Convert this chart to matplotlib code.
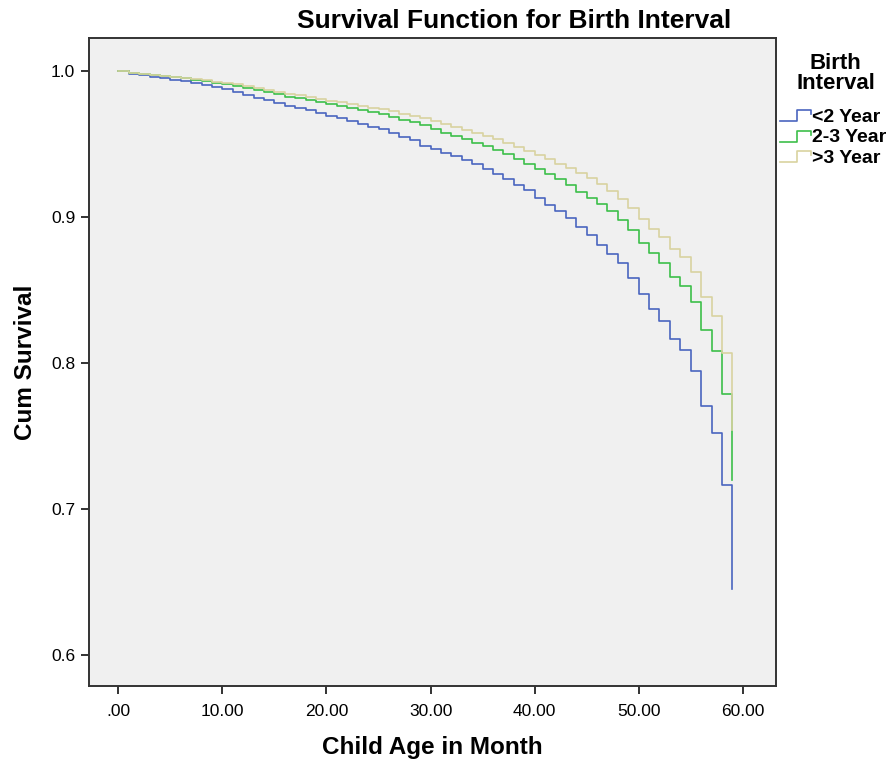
import matplotlib.pyplot as plt
from matplotlib.lines import Line2D
from matplotlib.legend_handler import HandlerBase
import numpy as np

plt.rcParams['font.family'] = ['Liberation Sans', 'DejaVu Sans']

# months 0..59, value holds from month m until m+1 (last one is the final drop)
months = list(range(60))

surv_lt2 = [1.0000, 0.9980, 0.9970, 0.9960, 0.9950, 0.9940, 0.9930, 0.9920, 0.9905, 0.9890,
            0.9875, 0.9855, 0.9835, 0.9815, 0.9800, 0.9780, 0.9760, 0.9745, 0.9730, 0.9710,
            0.9695, 0.9675, 0.9655, 0.9640, 0.9620, 0.9600, 0.9575, 0.9550, 0.9525, 0.9490,
            0.9465, 0.9440, 0.9415, 0.9390, 0.9365, 0.9330, 0.9295, 0.9260, 0.9220, 0.9185,
            0.9130, 0.9080, 0.9040, 0.8990, 0.8930, 0.8877, 0.8808, 0.8747, 0.8687, 0.8580,
            0.8473, 0.8368, 0.8290, 0.8164, 0.8089, 0.7947, 0.7708, 0.7523, 0.7164, 0.6450]

surv_2to3 = [1.0000, 0.9988, 0.9980, 0.9973, 0.9965, 0.9958, 0.9950, 0.9940, 0.9930, 0.9920,
             0.9910, 0.9898, 0.9885, 0.9870, 0.9855, 0.9840, 0.9825, 0.9812, 0.9800, 0.9788,
             0.9775, 0.9762, 0.9748, 0.9733, 0.9718, 0.9703, 0.9685, 0.9668, 0.9650, 0.9630,
             0.9600, 0.9578, 0.9555, 0.9535, 0.9510, 0.9485, 0.9460, 0.9430, 0.9395, 0.9365,
             0.9330, 0.9295, 0.9260, 0.9220, 0.9170, 0.9130, 0.9090, 0.9040, 0.8980, 0.8910,
             0.8824, 0.8751, 0.8687, 0.8591, 0.8527, 0.8420, 0.8226, 0.8084, 0.7788, 0.7200]

surv_gt3 = [1.0000, 0.9990, 0.9983, 0.9976, 0.9969, 0.9962, 0.9955, 0.9947, 0.9938, 0.9928,
            0.9918, 0.9908, 0.9898, 0.9885, 0.9872, 0.9858, 0.9845, 0.9833, 0.9822, 0.9810,
            0.9798, 0.9787, 0.9775, 0.9762, 0.9750, 0.9737, 0.9723, 0.9708, 0.9693, 0.9677,
            0.9660, 0.9640, 0.9620, 0.9598, 0.9577, 0.9555, 0.9532, 0.9508, 0.9480, 0.9455,
            0.9425, 0.9395, 0.9365, 0.9333, 0.9300, 0.9265, 0.9225, 0.9180, 0.9125, 0.9060,
            0.8986, 0.8918, 0.8865, 0.8780, 0.8724, 0.8625, 0.8454, 0.8324, 0.8066, 0.7540]

groups = ["<2 Year", "2-3 Year", ">3 Year"]
colors = ["#4a65bf", "#3dbf4a", "#d9d3a0"]

xticks = [0, 10, 20, 30, 40, 50, 60]
xticklabels = [".00", "10.00", "20.00", "30.00", "40.00", "50.00", "60.00"]
yticks = [0.6, 0.7, 0.8, 0.9, 1.0]
yticklabels = ["0.6", "0.7", "0.8", "0.9", "1.0"]


class StepHandler(HandlerBase):
    # little step icon like the SPSS legend
    def create_artists(self, legend, orig_handle, xdescent, ydescent, width, height, fontsize, trans):
        xs = np.array([0, 0.55, 0.55, 1.0, 1.0]) * width - xdescent
        ys = np.array([0.05, 0.05, 0.85, 0.85, 0.55]) * height - ydescent
        ln = Line2D(xs, ys, color=orig_handle.get_color(), lw=orig_handle.get_linewidth())
        ln.set_transform(trans)
        return [ln]


fig = plt.figure(figsize=(8.93, 7.61), dpi=100)
ax = fig.add_axes([0.0997, 0.0986, 0.7693, 0.8514])
ax.set_facecolor("#f0f0f0")

lines = []
for vals, col in zip([surv_lt2, surv_2to3, surv_gt3], colors):
    l, = ax.plot(months, vals, drawstyle="steps-post", color=col, lw=1.2)
    lines.append(l)

ax.set_xlim(-2.82, 63.2)
ax.set_ylim(0.5788, 1.0226)
ax.set_xticks(xticks)
ax.set_xticklabels(xticklabels)
ax.set_yticks(yticks)
ax.set_yticklabels(yticklabels)
ax.tick_params(axis="both", labelsize=12.5, length=6, width=1.3, color="#222222", pad=4)
ax.tick_params(axis="x", pad=7)
for sp in ax.spines.values():
    sp.set_color("#333333")
    sp.set_linewidth(1.4)

ax.set_xlabel("Child Age in Month", fontsize=17.5, fontweight="bold", labelpad=12)
ax.set_ylabel("Cum Survival", fontsize=17.5, fontweight="bold", labelpad=10)
fig.text(0.576, 0.973, "Survival Function for Birth Interval", fontsize=19,
         fontweight="bold", ha="center", va="center")

# legend title drawn on its own, SPSS puts a larger gap under it
fig.text(0.936, 0.903, "Birth\nInterval", fontsize=16, fontweight="bold",
         ha="center", va="center", linespacing=0.95)
leg = fig.legend(lines, groups, handler_map={Line2D: StepHandler()},
                 loc="upper left", bbox_to_anchor=(0.874, 0.858), frameon=False,
                 fontsize=14, handlelength=1.55, handletextpad=0.05, labelspacing=0.15,
                 borderpad=0, borderaxespad=0)
for t in leg.get_texts():
    t.set_fontweight("bold")

plt.savefig("out.png", dpi=100)
